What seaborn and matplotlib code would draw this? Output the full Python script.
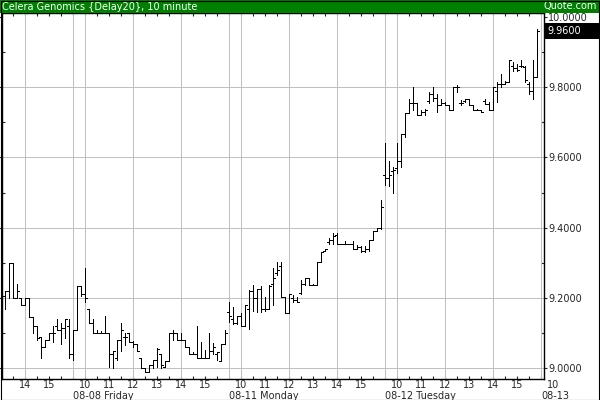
import matplotlib
matplotlib.use("Agg")
import matplotlib.pyplot as plt
import matplotlib.transforms as mtransforms
from matplotlib.patches import Rectangle
from matplotlib.ticker import MultipleLocator, FixedLocator
import seaborn as sns
import pandas as pd

# ---- data: 10 minute bars, bar index 0 = 08-08 09:30 ----
bar_index = list(range(-17, 117))

opens = [
    # 08-07 afternoon
    9.205, 9.22, 9.30, 9.20, 9.20, 9.18, 9.20, 9.145, 9.12, 9.09, 9.06, 9.08, 9.10, 9.12, 9.11, 9.115, 9.12,
    # 08-08
    9.04, 9.11, 9.235, 9.21, 9.17, 9.13, 9.10, 9.10, 9.10, 9.10, 9.04, 9.03, 9.08, 9.09, 9.10, 9.075, 9.07,
    9.03, 9.00, 8.99, 9.01, 9.025, 9.04, 9.005, 9.02, 9.10, 9.10, 9.08, 9.08, 9.06, 9.04, 9.04, 9.03, 9.03,
    9.03, 9.05, 9.04, 9.02, 9.07,
    # 08-11
    9.16, 9.14, 9.13, 9.15, 9.121, 9.17, 9.22, 9.20, 9.225, 9.17, 9.17, 9.24, 9.27, 9.29, 9.203, 9.158, 9.20,
    9.195, 9.215, 9.24, 9.258, 9.238, 9.238, 9.302, 9.335, 9.36, 9.365, 9.38, 9.353, 9.353, 9.353, 9.353,
    9.34, 9.345, 9.335, 9.34, 9.364, 9.39, 9.40,
    # 08-12
    9.55, 9.54, 9.56, 9.57, 9.59, 9.668, 9.727, 9.755, 9.755, 9.72, 9.73, 9.76, 9.78, 9.77, 9.75, 9.755,
    9.748, 9.734, 9.80, 9.755, 9.76, 9.767, 9.748, 9.736, 9.736, 9.76, 9.753, 9.734, 9.79, 9.81, 9.81, 9.814,
    9.86, 9.855, 9.86, 9.858, 9.81, 9.79, 9.83,
]
highs = [
    9.22, 9.30, 9.30, 9.24, 9.20, 9.20, 9.20, 9.145, 9.12, 9.09, 9.08, 9.10, 9.12, 9.14, 9.13, 9.14, 9.14,
    9.11, 9.235, 9.235, 9.285, 9.17, 9.14, 9.11, 9.105, 9.15, 9.10, 9.05, 9.08, 9.13, 9.10, 9.10, 9.078, 9.07,
    9.03, 9.00, 9.01, 9.025, 9.057, 9.042, 9.02, 9.10, 9.11, 9.10, 9.10, 9.08, 9.06, 9.045, 9.12, 9.075, 9.052,
    9.10, 9.073, 9.047, 9.07, 9.108,
    9.188, 9.174, 9.15, 9.158, 9.181, 9.222, 9.238, 9.227, 9.235, 9.203, 9.238, 9.285, 9.302, 9.302, 9.203,
    9.21, 9.208, 9.203, 9.25, 9.258, 9.258, 9.24, 9.302, 9.331, 9.34, 9.371, 9.386, 9.386, 9.355, 9.362,
    9.355, 9.362, 9.35, 9.348, 9.348, 9.364, 9.39, 9.40, 9.48,
    9.642, 9.591, 9.572, 9.642, 9.668, 9.727, 9.767, 9.80, 9.756, 9.736, 9.739, 9.786, 9.80, 9.78, 9.767,
    9.757, 9.748, 9.80, 9.805, 9.764, 9.767, 9.767, 9.748, 9.737, 9.736, 9.767, 9.757, 9.80, 9.814, 9.838,
    9.816, 9.878, 9.871, 9.866, 9.878, 9.859, 9.814, 9.878, 9.965,
]
lows = [
    9.17, 9.20, 9.20, 9.20, 9.18, 9.18, 9.145, 9.10, 9.08, 9.03, 9.06, 9.08, 9.075, 9.11, 9.07, 9.085, 9.03,
    9.025, 9.11, 9.205, 9.19, 9.13, 9.10, 9.10, 9.10, 9.10, 9.005, 9.00, 9.025, 9.05, 9.065, 9.075, 9.06, 9.05,
    9.00, 8.99, 8.99, 9.00, 9.005, 9.00, 9.005, 9.02, 9.08, 9.08, 9.08, 9.06, 9.04, 9.04, 9.03, 9.03, 9.03,
    9.03, 9.042, 9.024, 9.02, 9.07,
    9.131, 9.126, 9.126, 9.121, 9.121, 9.112, 9.164, 9.161, 9.16, 9.164, 9.169, 9.179, 9.265, 9.203, 9.158,
    9.158, 9.19, 9.19, 9.21, 9.238, 9.238, 9.236, 9.238, 9.302, 9.335, 9.354, 9.354, 9.353, 9.353, 9.353,
    9.353, 9.34, 9.34, 9.33, 9.331, 9.334, 9.364, 9.39, 9.397,
    9.522, 9.518, 9.50, 9.557, 9.572, 9.659, 9.727, 9.736, 9.72, 9.72, 9.72, 9.756, 9.76, 9.73, 9.748,
    9.748, 9.734, 9.734, 9.786, 9.748, 9.757, 9.748, 9.736, 9.736, 9.73, 9.753, 9.734, 9.734, 9.757, 9.80,
    9.81, 9.814, 9.847, 9.847, 9.857, 9.814, 9.781, 9.767, 9.828,
]
closes = [
    9.22, 9.30, 9.20, 9.22, 9.18, 9.20, 9.145, 9.12, 9.085, 9.06, 9.08, 9.10, 9.10, 9.11, 9.115, 9.14, 9.04,
    9.11, 9.235, 9.21, 9.20, 9.13, 9.10, 9.10, 9.10, 9.10, 9.04, 9.05, 9.08, 9.11, 9.09, 9.075, 9.07, 9.05,
    9.00, 8.99, 9.01, 9.025, 9.055, 9.01, 9.02, 9.10, 9.10, 9.08, 9.08, 9.06, 9.04, 9.04, 9.03, 9.03, 9.03,
    9.05, 9.06, 9.045, 9.07, 9.10,
    9.15, 9.13, 9.15, 9.121, 9.181, 9.22, 9.20, 9.225, 9.17, 9.17, 9.235, 9.257, 9.28, 9.203, 9.158, 9.21,
    9.195, 9.19, 9.24, 9.258, 9.238, 9.238, 9.302, 9.331, 9.34, 9.365, 9.375, 9.353, 9.353, 9.353, 9.353,
    9.34, 9.345, 9.335, 9.34, 9.364, 9.39, 9.40, 9.46,
    9.54, 9.55, 9.565, 9.59, 9.668, 9.727, 9.755, 9.755, 9.72, 9.73, 9.735, 9.78, 9.77, 9.75, 9.755,
    9.748, 9.734, 9.80, 9.80, 9.755, 9.767, 9.748, 9.736, 9.736, 9.73, 9.753, 9.734, 9.80, 9.81, 9.81,
    9.814, 9.878, 9.855, 9.85, 9.86, 9.82, 9.79, 9.83, 9.96,
]

hour_pos = [-12, -6, 3, 9, 15, 21, 27, 33, 42, 48, 54, 60, 66, 72, 81, 87, 93, 99, 105, 111, 120]
hour_labels = ["14", "15", "10", "11", "12", "13", "14", "15", "10", "11", "12", "13", "14", "15",
               "10", "11", "12", "13", "14", "15", "10"]
day_pos = [0, 39, 78, 117]
day_labels = ["08-08 Friday", "08-11 Monday", "08-12 Tuesday", "08-13"]
grid_pos = [-12, 0, 3, 15, 27, 39, 42, 54, 66, 78, 81, 93, 105, 117]
price_ticks = [9.0, 9.2, 9.4, 9.6, 9.8, 10.0]
last_price = 9.96

title = "Celera Genomics {Delay20}, 10 minute"
source = "Quote.com"

df = pd.DataFrame({"i": bar_index, "open": opens, "high": highs, "low": lows, "close": closes})

sns.set_style("white")
plt.rcParams["font.family"] = ["DejaVu Sans"]

W, H = 600, 400
fig = plt.figure(figsize=(6, 4), dpi=100)
fig.patch.set_facecolor("white")

# plot area in pixels: x 2..544, y 13..379
ax = fig.add_axes([2 / W, (H - 379) / H, 542 / W, 366 / H])
ax.set_xlim(-17.8, 117.7)
ax.set_ylim(8.9696, 10.0108)
ax.set_facecolor("white")

for x in grid_pos:
    ax.axvline(x, color="#c0c0c0", lw=0.5, zorder=1, antialiased=False)
for y in price_ticks[:-1]:
    ax.axhline(y, color="#c0c0c0", lw=0.5, zorder=1, antialiased=False)

# OHLC bars
lw = 0.5
ax.vlines(df["i"], df["low"], df["high"], color="black", lw=lw, zorder=3, antialiased=False)
ax.hlines(df["open"], df["i"] - 0.5, df["i"], color="black", lw=lw, zorder=3, antialiased=False)
ax.hlines(df["close"], df["i"], df["i"] + 0.5, color="black", lw=lw, zorder=3, antialiased=False)

for s in ax.spines.values():
    s.set_color("black")
    s.set_linewidth(1)

# x ticks every 30 minutes, labels drawn by hand
ax.xaxis.set_major_locator(MultipleLocator(3))
ax.tick_params(axis="x", which="both", direction="in", length=2.5, width=0.8,
               top=True, bottom=True, labelbottom=False, labeltop=False)

# y ticks
ax.yaxis.set_major_locator(FixedLocator(price_ticks))
ax.yaxis.set_minor_locator(MultipleLocator(0.1))
ax.tick_params(axis="y", which="major", direction="out", length=2, width=0.8,
               left=True, right=True, labelleft=False, labelright=True,
               labelsize=7, pad=0.8)
ax.tick_params(axis="y", which="minor", direction="in", length=2.5, width=0.8,
               left=True, right=True)
ax.set_yticklabels([f"{v:.4f}" for v in price_ticks])

xtrans = ax.get_xaxis_transform()
for x, lab in zip(hour_pos, hour_labels):
    ax.text(x, -0.003, lab, transform=xtrans, ha="center", va="top", fontsize=7, clip_on=False)
for x, lab in zip(day_pos, day_labels):
    ax.text(x, -0.033, lab, transform=xtrans, ha="left", va="top", fontsize=7, clip_on=False)

# last price box on the right
btrans = mtransforms.blended_transform_factory(ax.transAxes, ax.transData)
ax.add_patch(Rectangle((1.0, last_price - 0.022), 56 / 542, 0.044, transform=btrans,
                       facecolor="black", edgecolor="none", clip_on=False, zorder=5))
ax.text(1.0 + 3 / 542, last_price, f"{last_price:.4f}", transform=btrans, color="white",
        fontsize=7, va="center", ha="left", clip_on=False, zorder=6)

# green header
fig.patches.append(Rectangle((0, (H - 13) / H), 1, 13 / H, transform=fig.transFigure,
                             facecolor="#008000", edgecolor="none", zorder=0))
fig.text(2 / W, (H - 6.5) / H, title, color="white", fontsize=7, ha="left", va="center")
fig.text(597 / W, (H - 6.5) / H, source, color="white", fontsize=7, ha="right", va="center")

# outer frame around label margins
fig.patches.append(Rectangle((0.5 / W, 0.5 / H), (W - 1.5) / W, (H - 1) / H, transform=fig.transFigure,
                             facecolor="none", edgecolor="black", lw=0.8, zorder=10))

fig.savefig("out.png", dpi=100, facecolor="white")
